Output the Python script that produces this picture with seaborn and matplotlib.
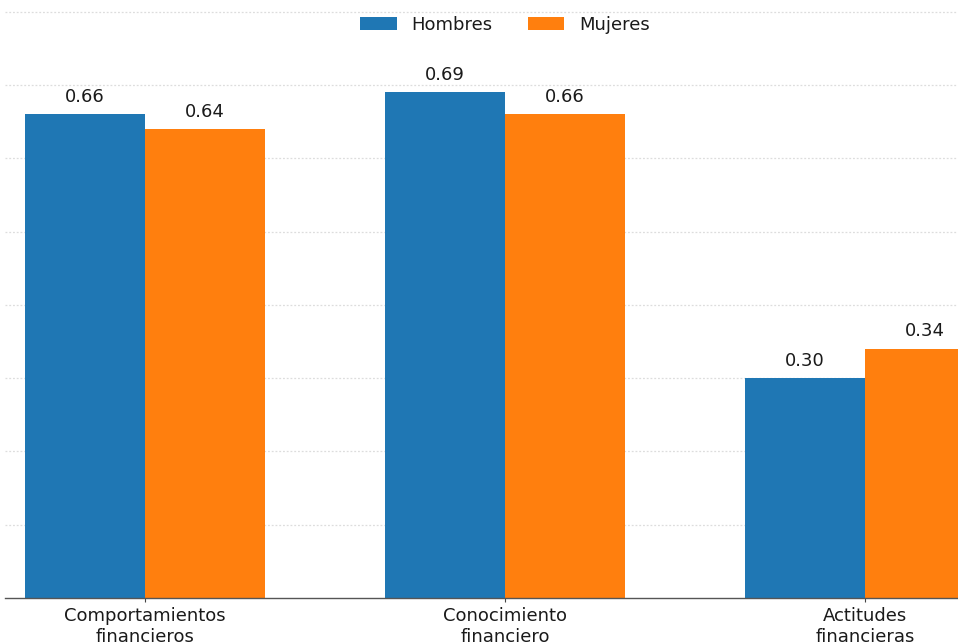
import matplotlib
matplotlib.use("Agg")
import matplotlib.pyplot as plt
import seaborn as sns
import pandas as pd

categorias = ["Comportamientos\nfinancieros", "Conocimiento\nfinanciero", "Actitudes\nfinancieras"]
hombres = [0.66, 0.69, 0.30]
mujeres = [0.64, 0.66, 0.34]
grupos = ["Hombres", "Mujeres"]
colores = ["#1f77b4", "#ff7f0e"]

df = pd.DataFrame({
    "categoria": categorias * 2,
    "valor": hombres + mujeres,
    "sexo": [grupos[0]] * 3 + [grupos[1]] * 3,
})

sns.set_style("white")
plt.rcParams["font.family"] = ["DejaVu Sans"]

W, H = 958, 644
fig = plt.figure(figsize=(W / 100, H / 100), dpi=100)
ymax = 0.82
ppu = 733  # pixels per y unit
ax = fig.add_axes([5 / W, 46 / H, 1000 / W, ymax * ppu / H])

sns.barplot(data=df, x="categoria", y="valor", hue="sexo", palette=colores,
            saturation=1, width=0.667, ax=ax, errorbar=None, linewidth=0)

fs = 13
for cont in ax.containers:
    ax.bar_label(cont, fmt="%.2f", padding=6, fontsize=fs, color="#1a1a1a")

ax.set_ylim(0, ymax)
ax.set_xlim(-0.389, 2.389)
ax.set_yticks([0.1 * i for i in range(1, 9)])
ax.yaxis.grid(True, linestyle=(0, (1.5, 1.5)), color="#dddddd", linewidth=0.9)
ax.set_axisbelow(True)
ax.tick_params(axis="y", left=False, labelleft=False)
ax.tick_params(axis="x", bottom=True, length=3, width=0.8, color="#444444",
               labelsize=fs, labelcolor="#1a1a1a")
ax.set_xlabel("")
ax.set_ylabel("")
for s in ["top", "right", "left"]:
    ax.spines[s].set_visible(False)
ax.spines["bottom"].set_color("#555555")
ax.spines["bottom"].set_linewidth(1.0)

leg = ax.legend(loc="upper center", ncol=2, frameon=False, fontsize=fs,
                borderaxespad=0.65)
for t in leg.get_texts():
    t.set_color("#1a1a1a")

fig.savefig("out.png", dpi=100)
